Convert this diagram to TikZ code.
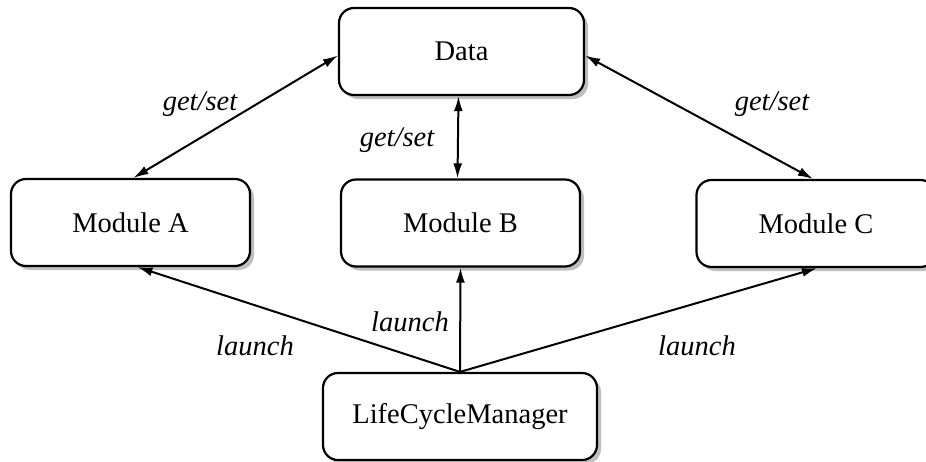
\documentclass[tikz,border=0pt]{standalone}
\usepackage{fontspec}
\setmainfont{Liberation Serif}
\usetikzlibrary{shadows,arrows.meta}
\begin{document}
\begin{tikzpicture}[x=1pt,y=-1pt,
  box/.style={draw, line width=2.2pt, rounded corners=15pt, fill=white,
    drop shadow={shadow xshift=4pt, shadow yshift=-4pt, fill=black!25, opacity=1},
    minimum height=87pt, inner sep=0pt, font=\fontsize{28.5}{32}\selectfont},
  lab/.style={font=\fontsize{28.5}{32}\selectfont\itshape, inner sep=0pt},
  conn/.style={line width=2pt, -{Latex[length=15pt,width=9pt]}},
  conn2/.style={line width=2pt, {Latex[length=15pt,width=9pt]}-{Latex[length=15pt,width=9pt]}}]
\useasboundingbox (0,0) rectangle (926,461);
\node[box, minimum width=245pt] (D) at (461.5,51.5) {Data};
\node[box, minimum width=239pt] (A) at (130.5,222.5) {Module A};
\node[box, minimum width=239pt] (B) at (460.5,223) {Module B};
\node[box, minimum width=239pt] (C) at (816,223.5) {Module C};
\node[box, minimum width=274pt] (L) at (460,416.5) {LifeCycleManager};
\draw[conn2] ([yshift=-4pt]D.west) -- ([xshift=3pt]A.north);
\draw[conn2] ([xshift=-3pt]D.south) -- ([xshift=-3pt]B.north);
\draw[conn2] ([yshift=-4pt]D.east) -- ([xshift=-3pt]C.north);
\draw[conn] (L.north) -- ([xshift=7pt]A.south);
\draw[conn] (L.north) -- (B.south);
\draw[conn] (L.north) -- ([xshift=1pt]C.south);
\node[lab] (g1) at (200,104) {get/set};
\node[lab] (g2) at (397,140) {get/set};
\node[lab] (g3) at (772,104) {get/set};
\node[lab] (l1) at (255,346) {launch};
\node[lab] (l2) at (410,322) {launch};
\node[lab] (l3) at (697,346) {launch};
\end{tikzpicture}
\end{document}
